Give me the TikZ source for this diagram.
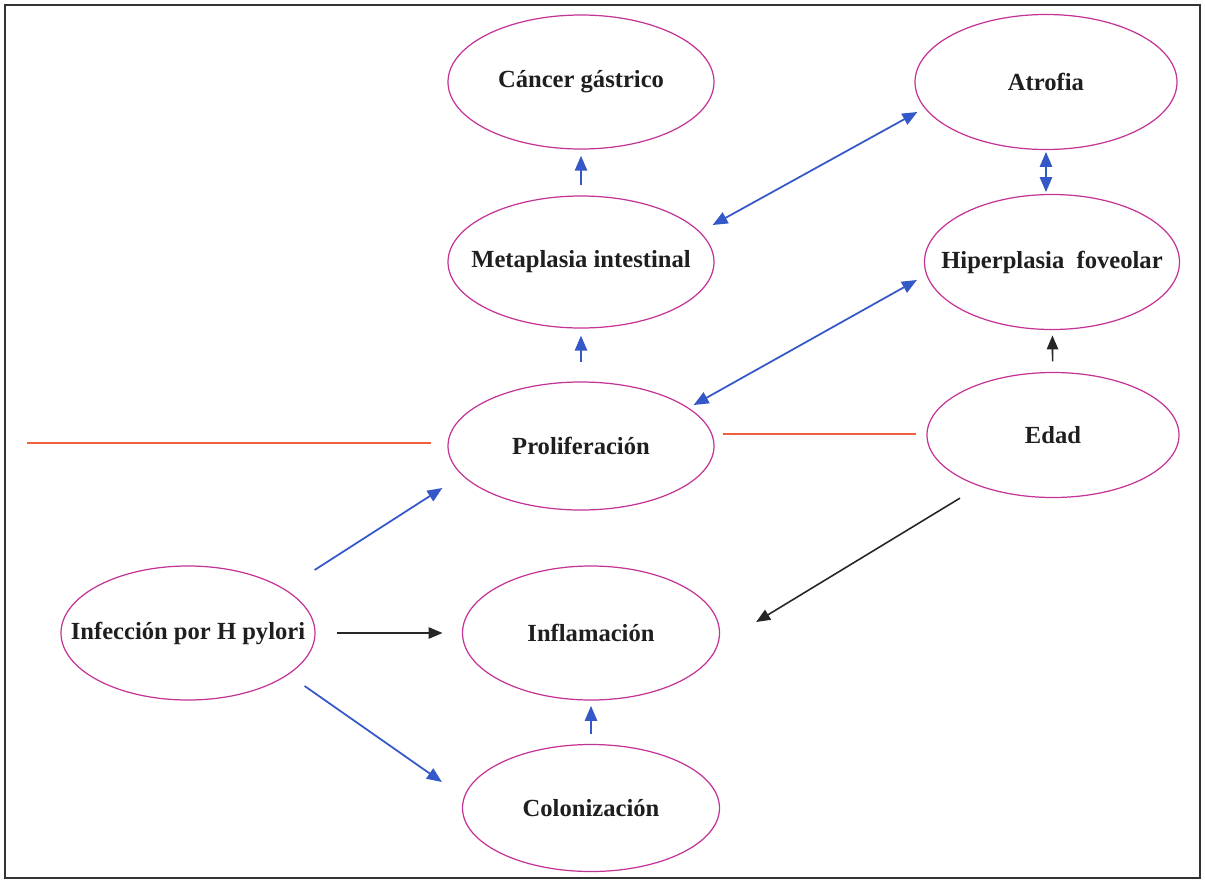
\documentclass[tikz,border=0pt]{standalone}
\usepackage{fontspec}
\setmainfont{Liberation Serif}
\usepackage{tikz}
\usetikzlibrary{shapes.geometric,arrows.meta,positioning,calc}
\definecolor{ellcol}{RGB}{196,52,150}
\definecolor{arrblue}{RGB}{52,88,200}
\definecolor{linered}{RGB}{240,96,60}

\begin{document}
\begin{tikzpicture}[x=0.02cm, y=-0.02cm,
    ellip/.style={draw=ellcol, line width=0.7pt, ellipse, inner sep=-25pt,
                  font=\fontsize{14}{16}\selectfont\bfseries, text=black!88},
    barrow/.style={arrblue, line width=1pt, -{Triangle[length=8.5pt,width=7pt]}},
    dbarrow/.style={arrblue, line width=1pt, {Triangle[length=8.5pt,width=7pt]}-{Triangle[length=8.5pt,width=7pt]}},
    karrow/.style={black!85, line width=0.9pt, -{Triangle[length=8pt,width=6.5pt]}},
    redline/.style={linered, line width=1pt}]
                    \useasboundingbox (0,0) rectangle (1205,880);
                    \draw[line width=1.6pt, black!80] (5,5) rectangle (1200,878);
                    % nodes
                    \node[ellip, minimum width=266*0.02cm, minimum height=134*0.02cm] (cancer) at (581,82) {Cáncer gástrico};
                    \node[ellip, minimum width=262*0.02cm, minimum height=135*0.02cm] (atrofia) at (1046,82) {Atrofia};
                    \node[ellip, minimum width=266*0.02cm, minimum height=132*0.02cm] (meta) at (581,262) {Metaplasia intestinal};
                    \node[ellip, minimum width=255*0.02cm, minimum height=135*0.02cm] (hiper) at (1052,262) {Hiperplasia~ foveolar};
                    \node[ellip, minimum width=266*0.02cm, minimum height=128*0.02cm] (prolif) at (581,446) {Proliferación};
                    \node[ellip, minimum width=252*0.02cm, minimum height=125*0.02cm] (edad) at (1053,435) {Edad};
                    \node[ellip, minimum width=254*0.02cm, minimum height=134*0.02cm] (infec) at (188,633) {Infección por H pylori};
                    \node[ellip, minimum width=257*0.02cm, minimum height=134*0.02cm] (inflam) at (591,633) {Inflamación};
                    \node[ellip, minimum width=257*0.02cm, minimum height=127*0.02cm] (coloniz) at (591,808) {Colonización};
                    \coordinate (redstart) at (27,443);
                    % connectors
                    \draw[barrow, shorten <=6pt, shorten >=3.5pt] (meta) -- (cancer);
                    \draw[barrow, shorten <=11pt, shorten >=4pt] (prolif) -- (meta);
                    \draw[dbarrow] ($(meta.east)+(-2,-37)$) -- ($(atrofia.west)+(3,30)$);
                    \draw[dbarrow, shorten <=1pt, shorten >=1pt] (atrofia.south) -- (atrofia.south |- hiper.north);
                    \draw[dbarrow] ($(prolif.east)+(-21,-41)$) -- ($(hiper.west)+(-7,18)$);
                    \draw[karrow, shorten <=6pt, shorten >=3pt] (edad) -- (hiper);
                    \draw[redline] (redstart) -- ($(prolif.west)+(-16,-3)$);
                    \draw[redline] ($(prolif.east)+(8,-12)$) -- ($(edad.west)+(-10,-1)$);
                    \draw[barrow] ($(infec.east)+(-1,-63)$) -- ($(prolif.west)+(-5,42)$);
                    \draw[karrow, shorten <=12pt, shorten >=11pt] (infec) -- (inflam);
                    \draw[barrow] ($(infec.east)+(-11,53)$) -- ($(coloniz.west)+(-20,-26)$);
                    \draw[karrow] ($(edad.south)+(-93,0)$) -- ($(inflam.east)+(36,-11)$);
                    \draw[barrow, shorten <=5.5pt, shorten >=3pt] (coloniz) -- (inflam);
                \end{tikzpicture}
\end{document}
